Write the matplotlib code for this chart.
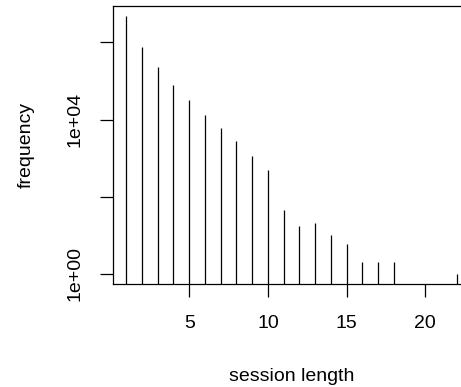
import matplotlib
matplotlib.use("Agg")
import matplotlib.pyplot as plt

# session length -> frequency (lengths 19-21 have no sessions)
lengths = [1, 2, 3, 4, 5, 6, 7, 8, 9, 10, 11, 12, 13, 14, 15, 16, 17, 18, 22]
freqs = [4.8e6, 7.6e5, 2.3e5, 8.1e4, 3.2e4, 1.35e4, 5900, 2700, 1150, 490,
         46, 17, 21, 10, 6, 2, 2, 2, 1]

x_ticks = [5, 10, 15, 20]
y_ticks = [1, 1e2, 1e4, 1e6]
y_tick_labels = ["1e+00", "", "1e+04", ""]

plt.rcParams["font.family"] = ["Liberation Sans", "DejaVu Sans"]

fig = plt.figure(figsize=(4.61, 3.87), dpi=100)
ax = fig.add_axes([113 / 461, 1 - 284 / 387, 357 / 461, 278 / 387])

ax.vlines(lengths, 1e-3, freqs, color="black", lw=0.9)
ax.set_yscale("log")
ax.set_xlim(0.16, 22.84)
ax.set_ylim(10 ** -0.267, 10 ** 6.947)

ax.set_xticks(x_ticks)
ax.set_xticklabels([str(t) for t in x_ticks])
ax.set_yticks(y_ticks)
ax.set_yticklabels(y_tick_labels, rotation=90, va="center")
ax.yaxis.set_minor_locator(matplotlib.ticker.NullLocator())

ax.tick_params(axis="both", direction="out", length=9.4, width=0.9,
               labelsize=14, color="black")
ax.tick_params(axis="x", pad=13)
ax.tick_params(axis="y", pad=12)
for s in ax.spines.values():
    s.set_linewidth(0.9)

ax.set_xlabel("session length", fontsize=14, labelpad=26)
ax.set_ylabel("frequency", fontsize=14, labelpad=23)

fig.savefig("out.png", dpi=100)
